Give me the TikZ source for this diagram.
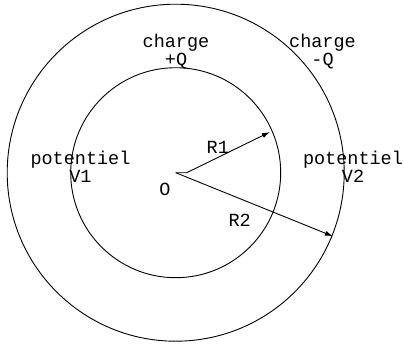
\documentclass[tikz,border=0pt]{standalone}
\usepackage{fontspec}
\setmonofont{Liberation Mono}
\usetikzlibrary{arrows.meta}

\begin{document}
\begin{tikzpicture}[x=1pt,y=-1pt,line width=0.9pt,
  lbl/.style={font=\ttfamily\fontsize{18.5}{18}\selectfont,inner sep=0pt,align=center}]
  \useasboundingbox (0,0) rectangle (404,343);

  % spheres
  \coordinate (o) at (175.7,172.7);
  \draw (o) circle[radius=105];
  \draw (o) circle[radius=168.5];

  % radii
  \coordinate (r1start) at (186.7,172.7);
  \coordinate (r1end) at (270,132);
  \coordinate (r2end) at (333,236.3);
  \draw[-{Latex[length=8pt,width=5pt]}] (o) -- (r1start) -- (r1end);
  \draw[-{Latex[length=8pt,width=5pt]}] (o) -- (r2end);

  % labels
  \node[lbl] (chargein) at (176,51.4) {charge\\+Q};
  \node[lbl] (chargeout) at (322.5,51.4) {charge\\-Q};
  \node[lbl] (potin) at (80.5,166.8) {potentiel\\V1};
  \node[lbl] (potout) at (353,166.8) {potentiel\\V2};
  \node[lbl] (olbl) at (165,189.5) {O};
  \node[lbl] (rone) at (217.8,147) {R1};
  \node[lbl] (rtwo) at (239.7,220) {R2};
\end{tikzpicture}
\end{document}
